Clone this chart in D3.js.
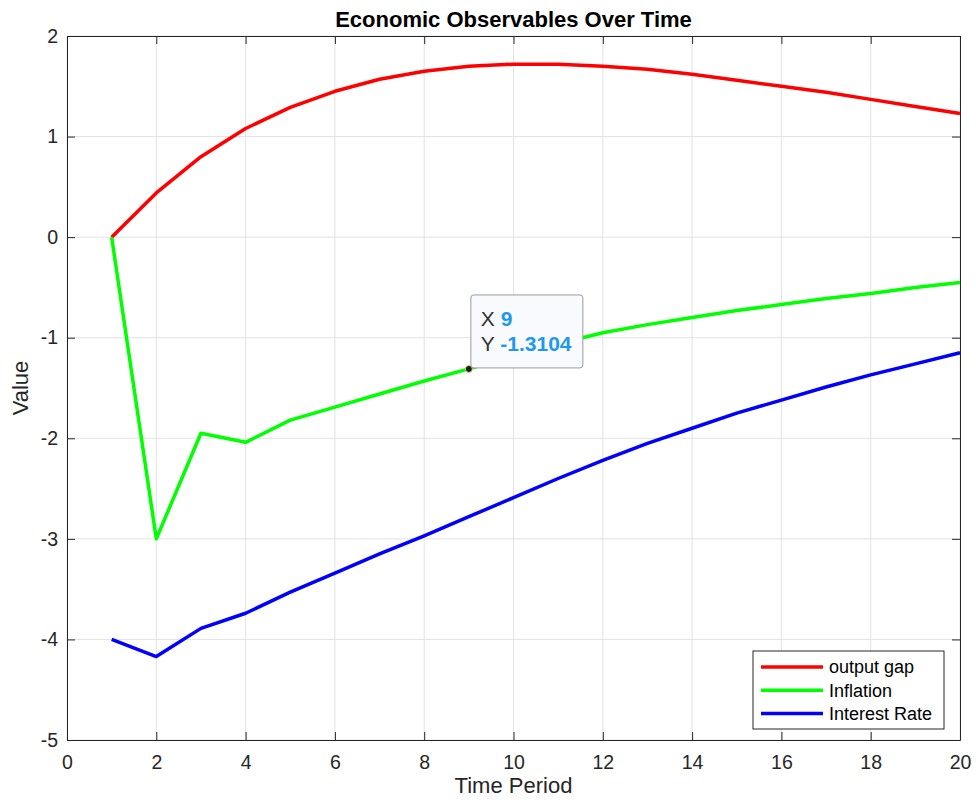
<!DOCTYPE html>
<html>
<head>
<meta charset="utf-8">
<script src="https://cdn.jsdelivr.net/npm/d3@7"></script>
<style>
  body { margin: 0; background: #fff; font-family: "Liberation Sans", Helvetica, Arial, sans-serif; }
  svg { display: block; }
</style>
</head>
<body>
<svg id="chart" width="976" height="805"></svg>
<script>
// values
const periods = d3.range(1, 21);
const outputGap = [0, 0.44, 0.80, 1.08, 1.29, 1.45, 1.57, 1.65, 1.70, 1.72, 1.72, 1.70, 1.67, 1.62, 1.56, 1.50, 1.44, 1.37, 1.30, 1.23];
const inflation = [0, -3.0, -1.95, -2.04, -1.82, -1.69, -1.56, -1.43, -1.3104, -1.18, -1.06, -0.95, -0.87, -0.80, -0.73, -0.67, -0.61, -0.56, -0.50, -0.45];
const interestRate = [-4.00, -4.17, -3.89, -3.74, -3.53, -3.34, -3.15, -2.97, -2.78, -2.59, -2.40, -2.22, -2.05, -1.90, -1.75, -1.62, -1.49, -1.37, -1.26, -1.15];
const seriesNames = ["output gap", "Inflation", "Interest Rate"];
const seriesColors = ["#ff0000", "#00ff00", "#0000ff"];
const xTicks = [0, 2, 4, 6, 8, 10, 12, 14, 16, 18, 20];
const yTicks = [2, 1, 0, -1, -2, -3, -4, -5];
const marker = { x: 9, y: -1.3104 };

const svg = d3.select("#chart");
const margin = { left: 67, right: 16, top: 36, bottom: 65 };
const W = 976, H = 805;
const pw = W - margin.left - margin.right;
const ph = H - margin.top - margin.bottom;

const x = d3.scaleLinear().domain([0, 20]).range([0, pw]);
const y = d3.scaleLinear().domain([-5, 2]).range([ph, 0]);

const g = svg.append("g").attr("transform", `translate(${margin.left},${margin.top})`);

// grid
g.append("g").selectAll("line").data(xTicks).join("line")
  .attr("x1", d => x(d)).attr("x2", d => x(d)).attr("y1", 0).attr("y2", ph)
  .attr("stroke", "#e3e3e3").attr("stroke-width", 1);
g.append("g").selectAll("line").data(yTicks).join("line")
  .attr("y1", d => y(d)).attr("y2", d => y(d)).attr("x1", 0).attr("x2", pw)
  .attr("stroke", "#e3e3e3").attr("stroke-width", 1);

// axes (ticks pointing inward, box style), plain hyphen minus like MATLAB
const tickColor = "#262626";
const fmt = d => String(d);
const bottomAxis = d3.axisBottom(x).tickValues(xTicks).tickFormat(fmt).tickSizeInner(-8).tickSizeOuter(0).tickPadding(15);
const leftAxis = d3.axisLeft(y).tickValues(yTicks).tickFormat(fmt).tickSizeInner(-8).tickSizeOuter(0).tickPadding(9);

const gx = g.append("g").attr("transform", `translate(0,${ph})`).call(bottomAxis);
const gy = g.append("g").call(leftAxis);
const gTop = g.append("g").call(d3.axisTop(x).tickValues(xTicks).tickSizeInner(-8).tickSizeOuter(0).tickFormat(""));
const gRight = g.append("g").attr("transform", `translate(${pw},0)`)
  .call(d3.axisRight(y).tickValues(yTicks).tickSizeInner(-8).tickSizeOuter(0).tickFormat(""));

[gx, gy, gTop, gRight].forEach(a => {
  a.select(".domain").attr("stroke", tickColor).attr("stroke-width", 1);
  a.selectAll(".tick line").attr("stroke", tickColor).attr("stroke-width", 1);
  a.selectAll(".tick text").attr("fill", tickColor)
    .style("font-family", "Liberation Sans, Helvetica, Arial, sans-serif").style("font-size", "19.5px");
});
gx.selectAll(".tick text").attr("dy", "0.71em");

// lines
const allSeries = [outputGap, inflation, interestRate];
const line = d3.line().x((d, i) => x(periods[i])).y(d => y(d));
allSeries.forEach((s, k) => {
  g.append("path").datum(s)
    .attr("fill", "none")
    .attr("stroke", seriesColors[k])
    .attr("stroke-width", 3.5)
    .attr("stroke-linejoin", "round")
    .attr("d", line);
});

// title + labels
svg.append("text").attr("x", margin.left + pw / 2).attr("y", 27)
  .attr("text-anchor", "middle").attr("font-weight", "bold").attr("font-size", "22px")
  .attr("fill", "#000").text("Economic Observables Over Time");
svg.append("text").attr("x", margin.left + pw / 2).attr("y", 793)
  .attr("text-anchor", "middle").attr("font-size", "22px").attr("fill", tickColor).text("Time Period");
svg.append("text").attr("transform", `translate(28,${margin.top + y(-1.5)}) rotate(-90)`)
  .attr("text-anchor", "middle").attr("font-size", "22px").attr("fill", tickColor).text("Value");

// legend
const leg = svg.append("g").attr("transform", "translate(753,651)");
leg.append("rect").attr("width", 191).attr("height", 78)
  .attr("fill", "#fff").attr("stroke", tickColor).attr("stroke-width", 1);
seriesNames.forEach((name, i) => {
  const ly = 16 + i * 23.3;
  leg.append("line").attr("x1", 8).attr("x2", 70).attr("y1", ly).attr("y2", ly)
    .attr("stroke", seriesColors[i]).attr("stroke-width", 3.5);
  leg.append("text").attr("x", 76).attr("y", ly).attr("dy", "0.35em")
    .attr("font-size", "18px").attr("fill", "#000").text(name);
});

// data tip
const mx = x(marker.x), my = y(marker.y);
const tip = g.append("g");
tip.append("circle").attr("cx", mx).attr("cy", my).attr("r", 3.5)
  .attr("fill", "#1a1a1a").attr("stroke", "#f5e9a0").attr("stroke-width", 0.8);
const tipG = tip.append("g").attr("transform", `translate(${mx + 2},${my - 74})`);
tipG.append("rect").attr("width", 112).attr("height", 73).attr("rx", 3)
  .attr("fill", "#f9fafd").attr("stroke", "#9a9a9a").attr("stroke-width", 1);
const rows = [["X", String(marker.x)], ["Y", String(marker.y)]];
rows.forEach((r, i) => {
  const t = tipG.append("text").attr("x", 10).attr("y", 31 + i * 25.5).attr("font-size", "21px");
  t.append("tspan").attr("fill", "#333").text(r[0] + " ");
  t.append("tspan").attr("fill", "#1e98f0").attr("font-weight", "bold").text(r[1]);
});
</script>
</body>
</html>
